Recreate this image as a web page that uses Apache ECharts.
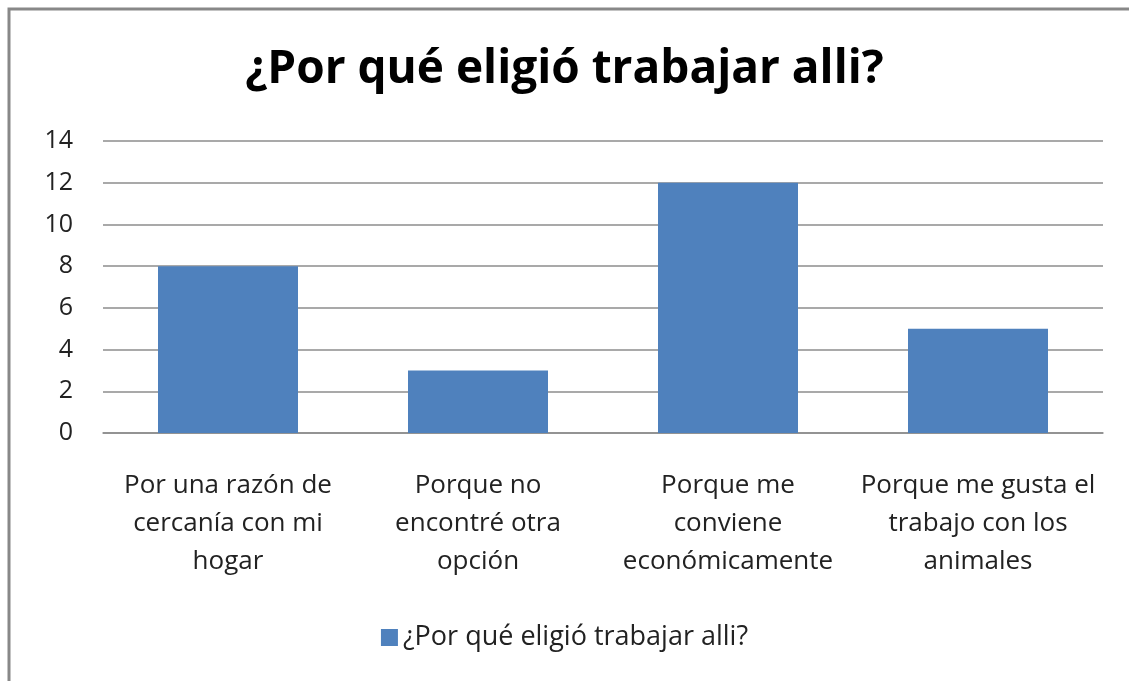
<!DOCTYPE html>
<html>
<head>
<meta charset="utf-8">
<script src="https://cdn.jsdelivr.net/npm/echarts@6/dist/echarts.min.js"></script>
<style>
	html, body { margin: 0; padding: 0; background: #fff; }
	#chart { width: 1129px; height: 681px; }
</style>
</head>
<body>
<div id="chart"></div>
<script>
var titleText = '¿Por qué eligió trabajar alli?';
var categories = [
	'Por una razón de\ncercanía con mi\nhogar',
	'Porque no\nencontré otra\nopción',
	'Porque me\nconviene\neconómicamente',
	'Porque me gusta el\ntrabajo con los\nanimales'
];
var seriesName = '¿Por qué eligió trabajar alli?';
var values = [8, 3, 12, 5];
var yTicks = [0, 2, 4, 6, 8, 10, 12, 14];

var font = '"Open Sans", "Noto Sans", sans-serif';
var chart = echarts.init(document.getElementById('chart'));
var option = {
	animation: false,
	title: {
		text: titleText,
		left: 'center',
		top: 42,
		textStyle: { fontFamily: font, fontSize: 46, fontWeight: 'bold', color: '#000' }
	},
	legend: {
		data: [seriesName],
		bottom: 25,
		left: 'center',
		icon: 'rect',
		itemWidth: 17,
		itemHeight: 17,
		itemGap: 8,
		textStyle: { fontFamily: font, fontSize: 27, color: '#222' }
	},
	grid: { left: 103, right: 26, top: 141, bottom: 248 },
	xAxis: {
		type: 'category',
		data: categories,
		axisLine: { lineStyle: { color: '#8c8c8c', width: 1.5 } },
		axisTick: { show: false },
		axisLabel: {
			interval: 0,
			margin: 34,
			fontFamily: font,
			fontSize: 26,
			lineHeight: 38,
			color: '#222'
		}
	},
	yAxis: {
		type: 'value',
		min: yTicks[0],
		max: yTicks[yTicks.length - 1],
		interval: 2,
		axisLine: { show: false },
		axisTick: { show: false },
		splitLine: { lineStyle: { color: '#8c8c8c', width: 1.5 } },
		axisLabel: { margin: 30, fontFamily: font, fontSize: 25, color: '#222' }
	},
	series: [{
		name: seriesName,
		type: 'bar',
		data: values,
		barWidth: '56%',
		itemStyle: { color: '#4f81bd' }
	}],
	graphic: [{
		type: 'rect',
		shape: { x: 9, y: 9, width: 1140, height: 700 },
		style: { fill: 'none', stroke: '#888', lineWidth: 3 },
		silent: true
	}]
};
chart.setOption(option);
</script>
</body>
</html>
